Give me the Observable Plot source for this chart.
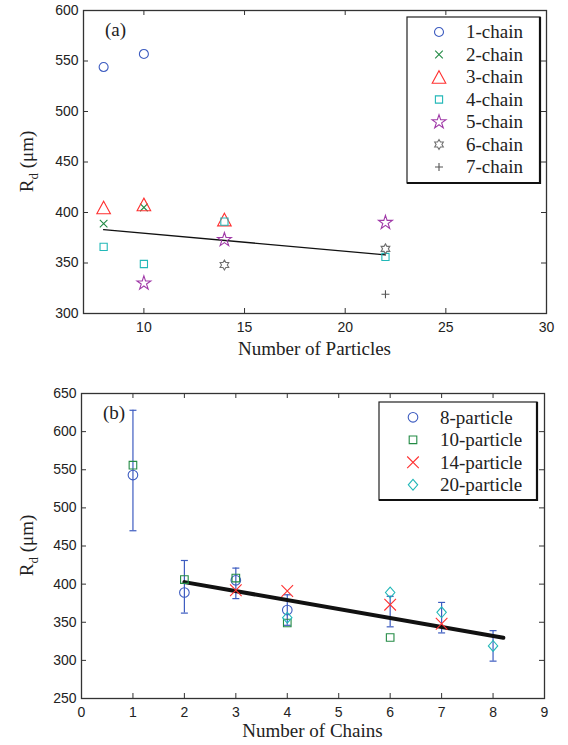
<!DOCTYPE html>
<html><head><meta charset="utf-8">
<script src="https://cdn.jsdelivr.net/npm/d3@7"></script>
<script src="https://cdn.jsdelivr.net/npm/@observablehq/plot@0.6"></script>
<style>
body{margin:0;background:#fff;}
#chart{width:568px;height:745px;position:relative;overflow:hidden;}
#chart svg{display:block;}
</style></head><body><div id="chart"></div>
<script>
// ---------- Panel (a): Rd vs number of particles ----------
const xTicksA = [10, 15, 20, 25, 30];
const yTicksA = [300, 350, 400, 450, 500, 550, 600];
const chainLabels = ["1-chain", "2-chain", "3-chain", "4-chain", "5-chain", "6-chain", "7-chain"];
const chain1Particles = [8, 10];          const chain1Rd = [544, 557];
const chain2Particles = [8, 10];          const chain2Rd = [389, 405];
const chain3Particles = [8, 10, 14];      const chain3Rd = [405, 408, 393];
const chain4Particles = [8, 10, 14, 22];  const chain4Rd = [366, 349, 391, 356];
const chain5Particles = [10, 14, 22];     const chain5Rd = [330, 373, 390];
const chain6Particles = [14, 22];         const chain6Rd = [348, 364];
const chain7Particles = [22];             const chain7Rd = [319];
const fitAParticles = [8, 22];            const fitARd = [383, 358];

// ---------- Panel (b): Rd vs number of chains ----------
const xTicksB = [0, 1, 2, 3, 4, 5, 6, 7, 8, 9];
const yTicksB = [250, 300, 350, 400, 450, 500, 550, 600, 650];
const particleLabels = ["8-particle", "10-particle", "14-particle", "20-particle"];
const p8Chains = [1, 2, 3, 4];       const p8Rd = [543, 389, 405, 366];
const p10Chains = [1, 2, 3, 4, 6];   const p10Rd = [556, 406, 408, 349, 330];
const p14Chains = [3, 4, 6, 7];      const p14Rd = [392, 391, 373, 348];
const p20Chains = [4, 6, 7, 8];      const p20Rd = [356, 389, 363, 319];
const errChains = [1, 2, 3, 4, 6, 7, 8];
const errLow  = [470, 362, 381, 346, 344, 336, 299];
const errHigh = [628, 431, 421, 386, 384, 376, 339];
const fitBChains = [2, 8.2];         const fitBRd = [402.6, 329.6];

// ---------- symbols ----------
const symR = size => Math.sqrt(size / Math.PI);
const poly = pts => ({draw(ctx, size) {
  const r = symR(size);
  pts.forEach(([x, y], i) => i ? ctx.lineTo(x * r, y * r) : ctx.moveTo(x * r, y * r));
  ctx.closePath();
}});
const symCircle = {draw(ctx, size) { const r = symR(size); ctx.moveTo(r, 0); ctx.arc(0, 0, r, 0, 2 * Math.PI); }};
const symTimes = {draw(ctx, size) { const r = symR(size); ctx.moveTo(-r, -r); ctx.lineTo(r, r); ctx.moveTo(-r, r); ctx.lineTo(r, -r); }};
const symPlus = {draw(ctx, size) { const r = symR(size); ctx.moveTo(-r, 0); ctx.lineTo(r, 0); ctx.moveTo(0, -r); ctx.lineTo(0, r); }};
const symCap = {draw(ctx, size) { const r = symR(size); ctx.moveTo(-r, 0); ctx.lineTo(r, 0); }};
const symTriangle = poly([[0, -1], [1.08, 1], [-1.08, 1]]);
const symSquare = poly([[-1, -1], [1, -1], [1, 1], [-1, 1]]);
const symDiamond = poly([[0, -1], [0.87, 0], [0, 1], [-0.87, 0]]);
const symStar = poly(d3.range(10).map(k => { const a = -Math.PI / 2 + k * Math.PI / 5, rr = k % 2 ? 0.382 : 1; return [rr * Math.cos(a), rr * Math.sin(a)]; }));
const symHexagram = poly(d3.range(12).map(k => { const a = -Math.PI / 2 + k * Math.PI / 6, rr = k % 2 ? 0.577 : 1; return [rr * Math.cos(a), rr * Math.sin(a)]; }));

const BLUE = "#3d5cc0", GREEN = "#238b45", RED = "#ff3030", CYAN = "#22b8b8",
      PURPLE = "#a03aa8", GRAY = "#707070", DARK = "#555555", AXIS = "#333333";

const seriesA = [
  {label: chainLabels[0], xs: chain1Particles, ys: chain1Rd, sym: symCircle, r: 4.5, color: BLUE},
  {label: chainLabels[1], xs: chain2Particles, ys: chain2Rd, sym: symTimes, r: 3.8, color: GREEN},
  {label: chainLabels[2], xs: chain3Particles, ys: chain3Rd, sym: symTriangle, r: 6.3, color: RED},
  {label: chainLabels[3], xs: chain4Particles, ys: chain4Rd, sym: symSquare, r: 3.6, color: CYAN},
  {label: chainLabels[4], xs: chain5Particles, ys: chain5Rd, sym: symStar, r: 7.3, color: PURPLE},
  {label: chainLabels[5], xs: chain6Particles, ys: chain6Rd, sym: symHexagram, r: 5, color: GRAY},
  {label: chainLabels[6], xs: chain7Particles, ys: chain7Rd, sym: symPlus, r: 4, color: DARK}
];
const seriesB = [
  {label: particleLabels[0], xs: p8Chains, ys: p8Rd, sym: symCircle, r: 4.8, color: BLUE},
  {label: particleLabels[1], xs: p10Chains, ys: p10Rd, sym: symSquare, r: 3.8, color: GREEN},
  {label: particleLabels[2], xs: p14Chains, ys: p14Rd, sym: symTimes, r: 5.8, color: RED},
  {label: particleLabels[3], xs: p20Chains, ys: p20Rd, sym: symDiamond, r: 5.4, color: CYAN}
];

const TICK = 5;
function frameMarks(xt, yt, pw, ph) {
  return [
    Plot.ruleX(xt, {insetTop: ph - TICK, stroke: AXIS, strokeWidth: 1}),
    Plot.ruleX(xt, {insetBottom: ph - TICK, stroke: AXIS, strokeWidth: 1}),
    Plot.ruleY(yt, {insetRight: pw - TICK, stroke: AXIS, strokeWidth: 1}),
    Plot.ruleY(yt, {insetLeft: pw - TICK, stroke: AXIS, strokeWidth: 1}),
    Plot.frame({stroke: AXIS, strokeWidth: 1.3})
  ];
}
function dotMarks(series) {
  return series.map(s => Plot.dot(s.xs.map((x, i) => ({x, y: s.ys[i]})),
    {x: "x", y: "y", symbol: s.sym, r: s.r, stroke: s.color, fill: "none", strokeWidth: 1.1}));
}
const style = {fontFamily: "'Liberation Sans', Arial, sans-serif", fontSize: "14px", color: "#222", background: "#fff"};
const SERIF = "'Liberation Serif', 'Times New Roman', serif";

// geometry
const A = {w: 568, h: 370, mt: 10, mb: 57, ml: 83, mr: 22};
const B = {w: 568, h: 375, mt: 23, mb: 47, ml: 81, mr: 24};

const plotA = Plot.plot({
  width: A.w, height: A.h, marginTop: A.mt, marginBottom: A.mb, marginLeft: A.ml, marginRight: A.mr,
  x: {domain: [7, 30]}, y: {domain: [300, 600]}, style,
  marks: [
    Plot.axisX(xTicksA, {tickSize: 0, tickPadding: 9, label: null}),
    Plot.axisY(yTicksA, {tickSize: 0, tickPadding: 5, label: null}),
    ...frameMarks(xTicksA, yTicksA, A.w - A.ml - A.mr, A.h - A.mt - A.mb),
    Plot.line(fitAParticles.map((x, i) => ({x, y: fitARd[i]})), {x: "x", y: "y", stroke: "#111", strokeWidth: 1.4}),
    ...dotMarks(seriesA)
  ]
});

const errData = errChains.map((x, i) => ({x, lo: errLow[i], hi: errHigh[i]}));
const plotB = Plot.plot({
  width: B.w, height: B.h, marginTop: B.mt, marginBottom: B.mb, marginLeft: B.ml, marginRight: B.mr,
  x: {domain: [0, 9]}, y: {domain: [250, 650]}, style,
  marks: [
    Plot.axisX(xTicksB, {tickSize: 0, tickPadding: 9, label: null}),
    Plot.axisY(yTicksB, {tickSize: 0, tickPadding: 5, label: null}),
    ...frameMarks(xTicksB, yTicksB, B.w - B.ml - B.mr, B.h - B.mt - B.mb),
    Plot.ruleX(errData, {x: "x", y1: "lo", y2: "hi", stroke: BLUE, strokeWidth: 1.2}),
    Plot.dot(errData, {x: "x", y: "lo", symbol: symCap, r: 3.5, stroke: BLUE, fill: "none", strokeWidth: 1.2}),
    Plot.dot(errData, {x: "x", y: "hi", symbol: symCap, r: 3.5, stroke: BLUE, fill: "none", strokeWidth: 1.2}),
    Plot.line(fitBChains.map((x, i) => ({x, y: fitBRd[i]})), {x: "x", y: "y", stroke: "#111", strokeWidth: 4}),
    ...dotMarks(seriesB)
  ]
});

function decorate(svg, cfg, panelLabel, xLabel, xLabelY, legendCfg, series) {
  const s = d3.select(svg);
  const pw = cfg.w - cfg.ml - cfg.mr, ph = cfg.h - cfg.mt - cfg.mb;
  s.append("text").attr("x", cfg.ml + 22).attr("y", cfg.mt + 26).attr("text-anchor", "start")
    .attr("font-family", SERIF).attr("font-size", 19).attr("fill", "#222").text(panelLabel);
  s.append("text").attr("x", cfg.ml + pw / 2).attr("y", xLabelY).attr("text-anchor", "middle")
    .attr("font-family", SERIF).attr("font-size", 19).attr("fill", "#222").text(xLabel);
  const yl = s.append("text").attr("transform", `translate(33,${cfg.mt + ph / 2}) rotate(-90)`)
    .attr("text-anchor", "middle").attr("font-family", SERIF).attr("font-size", 19).attr("fill", "#222");
  yl.append("tspan").text("R");
  yl.append("tspan").attr("font-size", 13).attr("dy", 5).text("d");
  yl.append("tspan").attr("dy", -5).text(" (\u03bcm)");
  const L = legendCfg;
  const lg = s.append("g");
  lg.append("rect").attr("x", L.x0).attr("y", L.y0).attr("width", L.x1 - L.x0).attr("height", L.y1 - L.y0)
    .attr("fill", "#fff").attr("stroke", "#222").attr("stroke-width", 1.2);
  lg.append("path").attr("d", `M${L.x0},${L.y1}H${L.x1}V${L.y0}`).attr("fill", "none")
    .attr("stroke", "#111").attr("stroke-width", 2.2);
  series.forEach((sr, i) => {
    const yy = L.row0 + i * L.step;
    lg.append("path").attr("transform", `translate(${L.mx},${yy})`)
      .attr("d", d3.symbol(sr.sym, Math.PI * sr.r * sr.r)())
      .attr("fill", "none").attr("stroke", sr.color).attr("stroke-width", 1.1);
    lg.append("text").attr("x", L.tx).attr("y", yy).attr("dy", "0.33em").attr("text-anchor", "start")
      .attr("font-family", SERIF).attr("font-size", 19).attr("fill", "#222").text(sr.label);
  });
}

decorate(plotA, A, "(a)", "Number of Particles", 355,
  {x0: 407, x1: 540, y0: 17, y1: 183, mx: 439, tx: 466, row0: 32, step: 22.5}, seriesA);
decorate(plotB, B, "(b)", "Number of Chains", 367,
  {x0: 379, x1: 537, y0: 32, y1: 130, mx: 413, tx: 440, row0: 47.3, step: 22.5}, seriesB);

document.getElementById("chart").append(plotA, plotB);
</script></body></html>
